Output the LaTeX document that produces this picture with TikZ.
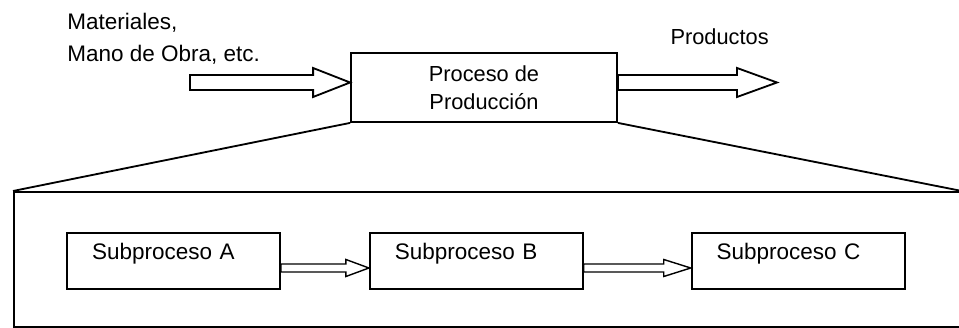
\documentclass[tikz,border=0pt]{standalone}
\usepackage{fontspec}
\setmainfont{Liberation Sans}
\usetikzlibrary{positioning}
\usetikzlibrary{calc}

\begin{document}
\begin{tikzpicture}[
  caja/.style={draw=black,line width=1.3pt,rectangle},
  subcaja/.style={caja,minimum height=1.4cm,text width=4.075cm,inner xsep=0.625cm,align=left,text height=0.375cm,text depth=0.425cm},
  flecha/.style={draw=black,line width=1.3pt,fill=white},
  texto/.style={font=\fontsize{16}{22.8}\selectfont,text=black}
]
\useasboundingbox (0,0) rectangle (23.975,8.2);

% proceso principal
\node[caja,minimum width=6.65cm,minimum height=1.725cm,align=center,font=\fontsize{15.5}{19.9}\selectfont] (proc) at (12.1,6.0125) {Proceso de\\Producci\'on};
\node[texto,anchor=north west,inner sep=0pt,align=left] (insumos) at (1.675,7.875) {Materiales,\\Mano de Obra, etc.};
\node[font=\fontsize{15.5}{19}\selectfont,anchor=base] (productos) at (17.99,7.075) {Productos};
\coordinate (entrada) at (4.75,6.1375);
\coordinate (salida) at (19.425,6.1375);

\draw[flecha] let \p1=(entrada), \p2=(proc.west |- entrada) in
  (\x1,\y1+0.1875cm) -- (\x2-0.925cm,\y1+0.1875cm) -- (\x2-0.925cm,\y1+0.3625cm) -- (\x2,\y1)
  -- (\x2-0.925cm,\y1-0.3625cm) -- (\x2-0.925cm,\y1-0.1875cm) -- (\x1,\y1-0.1875cm) -- cycle;
\draw[flecha] let \p1=(proc.east |- salida), \p2=(salida) in
  (\x1,\y1+0.1875cm) -- (\x2-1cm,\y1+0.1875cm) -- (\x2-1cm,\y1+0.3625cm) -- (\x2,\y1)
  -- (\x2-1cm,\y1-0.3625cm) -- (\x2-1cm,\y1-0.1875cm) -- (\x1,\y1-0.1875cm) -- cycle;

% detalle de subprocesos
\node[caja,anchor=north west,minimum width=23.675cm,minimum height=3.375cm] (marco) at (0.325,3.425) {};
\draw[line width=1.3pt] (proc.south west) -- (marco.north west);
\draw[line width=1.3pt] (proc.south east) -- (marco.north east);

\node[subcaja,texto] (subA) at (4.3375,1.675) {Subproceso A};
\node[subcaja,texto,right=2.2cm of subA] (subB) {Subproceso B};
\node[subcaja,texto,right=2.675cm of subB] (subC) {Subproceso C};

\draw[flecha,line width=1pt] let \p1=($(subA.east)+(0,-0.175)$), \p2=($(subB.west)+(0,-0.175)$) in
  (\x1,\y1+0.1cm) -- (\x2-0.575cm,\y1+0.1cm) -- (\x2-0.575cm,\y1+0.2125cm) -- (\x2,\y1)
  -- (\x2-0.575cm,\y1-0.2125cm) -- (\x2-0.575cm,\y1-0.1cm) -- (\x1,\y1-0.1cm) -- cycle;
\draw[flecha,line width=1pt] let \p1=($(subB.east)+(0,-0.175)$), \p2=($(subC.west)+(0,-0.175)$) in
  (\x1,\y1+0.1cm) -- (\x2-0.675cm,\y1+0.1cm) -- (\x2-0.675cm,\y1+0.2125cm) -- (\x2,\y1)
  -- (\x2-0.675cm,\y1-0.2125cm) -- (\x2-0.675cm,\y1-0.1cm) -- (\x1,\y1-0.1cm) -- cycle;

\end{tikzpicture}
\end{document}
